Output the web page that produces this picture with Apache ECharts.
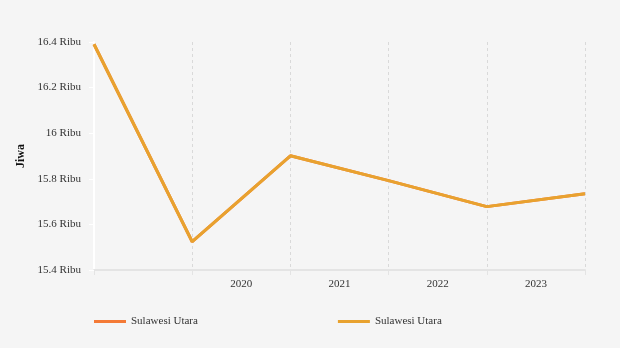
<!DOCTYPE html>
<html>
<head>
<meta charset="utf-8">
<script src="https://cdn.jsdelivr.net/npm/echarts@6/dist/echarts.min.js"></script>
<style>html,body{margin:0;padding:0;background:#f5f5f5;}#c{width:620px;height:348px;}</style>
</head>
<body>
<div id="c"></div>
<script>
var pointYears = ['2019', '2020', '2021', '2022', '2023', '2024'];
var labelYears = ['', '2020', '2021', '2022', '2023'];
var seriesName = 'Sulawesi Utara';
var valuesA = [16390, 15524, 15901, 15792, 15678, 15734];
var valuesB = [16390, 15524, 15901, 15792, 15678, 15734];

var chart = echarts.init(document.getElementById('c'));
var font = '"Liberation Serif", "Times New Roman", serif';
chart.setOption({
  backgroundColor: '#f5f5f5',
  animation: false,
  textStyle: { fontFamily: font },
  grid: { left: 94, right: 35, top: 42, bottom: 78 },
  legend: {
    left: 94, top: 316, padding: 0, itemGap: 140, itemWidth: 32, itemHeight: 3,
    icon: 'rect',
    textStyle: { fontFamily: font, fontSize: 11, color: '#333' },
    data: [{ name: seriesName + ' ' }, { name: seriesName }],
    formatter: function (n) { return n.trim(); }
  },
  xAxis: [{
    type: 'category', boundaryGap: false, data: pointYears,
    axisLine: { lineStyle: { color: '#e4e4e4', width: 2 } },
    axisTick: { show: true, length: 5, lineStyle: { color: '#e4e4e4', width: 1 } },
    axisLabel: { show: false },
    splitLine: { show: true, lineStyle: { color: '#d9d9d9', type: [3, 3], width: 1 } }
  }, {
    type: 'category', boundaryGap: true, data: labelYears, position: 'bottom',
    axisLine: { show: false }, axisTick: { show: false },
    axisLabel: { fontFamily: font, fontSize: 11, color: '#333', margin: 9 },
    splitLine: { show: false }
  }],
  yAxis: {
    type: 'value', min: 15400, max: 16400, interval: 200,
    name: 'Jiwa', nameLocation: 'middle', nameGap: 62,
    nameTextStyle: { fontFamily: font, fontSize: 12, fontWeight: 'bold', color: '#111' },
    axisLine: { show: true, lineStyle: { color: '#ffffff', width: 2 } },
    axisTick: { show: true, length: 5, lineStyle: { color: '#ffffff', width: 1 } },
    axisLabel: { fontFamily: font, fontSize: 11, color: '#333', margin: 13,
      formatter: function (v) { return (v / 1000) + ' Ribu'; } },
    splitLine: { show: false }
  },
  series: [{
    name: seriesName + ' ', type: 'line', data: valuesA, xAxisIndex: 0,
    showSymbol: false, symbol: 'none',
    itemStyle: { color: '#f47a36' }, lineStyle: { color: '#f47a36', width: 3 }
  }, {
    name: seriesName, type: 'line', data: valuesB, xAxisIndex: 0,
    showSymbol: false, symbol: 'none',
    itemStyle: { color: '#e8a22f' }, lineStyle: { color: '#e8a22f', width: 3 }
  }]
});
</script>
</body>
</html>
